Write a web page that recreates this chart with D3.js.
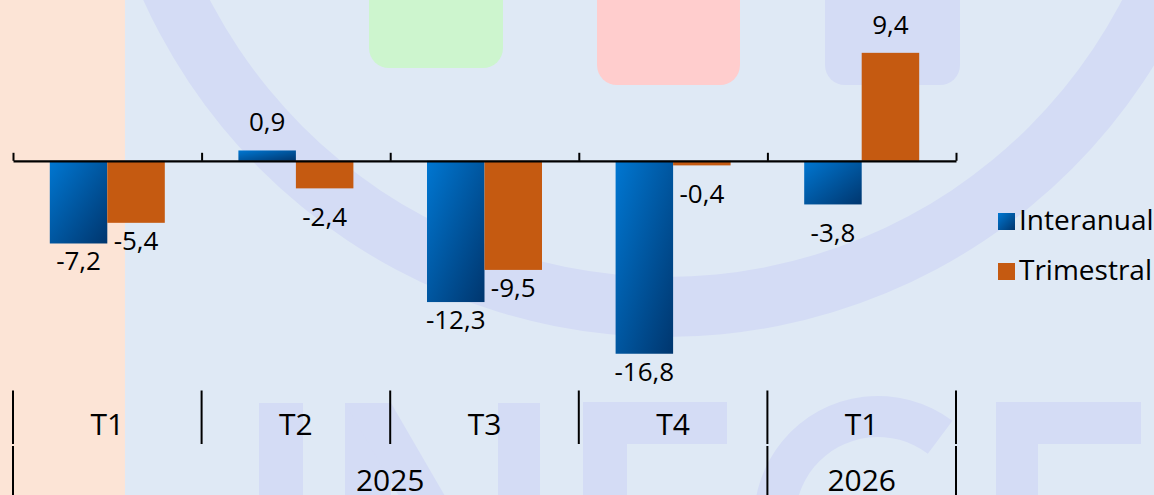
<!DOCTYPE html>
<html lang="es">
<head>
<meta charset="utf-8">
<title>Variación porcentual</title>
<script src="https://cdn.jsdelivr.net/npm/d3@7/dist/d3.min.js"></script>
<style>
  html, body { margin: 0; padding: 0; background: #DFE9F5; }
  svg { display: block; }
  text { font-family: "Open Sans", "Noto Sans", sans-serif; fill: #000; }
</style>
</head>
<body>
<svg id="chart" width="1154" height="495"></svg>
<script>
// Quarterly categories and their years
const quarters = ["T1", "T2", "T3", "T4", "T1"];
const years = ["2025", "2025", "2025", "2025", "2026"];

// Series
const seriesNames = ["Interanual", "Trimestral"];
const interanual = [-7.2, 0.9, -12.3, -16.8, -3.8];
const trimestral = [-5.4, -2.4, -9.5, -0.4, 9.4];

// Value axis extent
const yDomain = [-20, 14];

const seriesValues = { Interanual: interanual, Trimestral: trimestral };

const W = 1154, H = 495;
const svg = d3.select("#chart");

const locale = d3.formatLocale({ decimal: ",", thousands: ".", grouping: [3], currency: ["", ""], minus: "-" });
const fmt = locale.format(".1f");

// ---------- scales ----------
const plotLeft = 13, plotRight = 956, plotTop = 0, plotBottom = 390.5;
const x0 = d3.scaleBand().domain(d3.range(quarters.length)).range([plotLeft, plotRight]).padding(0);
const x1 = d3.scaleBand().domain(seriesNames).range([0, x0.bandwidth()]).paddingInner(0).paddingOuter(0.64);
const xEdge = d3.scaleLinear().domain([0, quarters.length]).range([plotLeft, plotRight]);
const y = d3.scaleLinear().domain(yDomain).range([plotBottom, plotTop]);

// ---------- defs ----------
const defs = svg.append("defs");
const grad = defs.append("linearGradient").attr("id", "blueGrad")
  .attr("x1", 0).attr("y1", 0).attr("x2", 1).attr("y2", 1);
grad.append("stop").attr("offset", "0%").attr("stop-color", "#0077D2");
grad.append("stop").attr("offset", "100%").attr("stop-color", "#00366E");

const fills = { Interanual: "url(#blueGrad)", Trimestral: "#C55A11" };

// ---------- background ----------
svg.append("rect").attr("width", W).attr("height", H).attr("fill", "#DFE9F5");

// faint institutional emblem behind the plot
const mark = svg.append("g").attr("class", "emblem");
const tint = "#D4DCF5";
mark.append("rect").attr("x", 369).attr("y", -40).attr("width", 134).attr("height", 108).attr("rx", 20).attr("fill", "#CDF5CE");
mark.append("rect").attr("x", 597).attr("y", -40).attr("width", 143).attr("height", 125).attr("rx", 20).attr("fill", "#FFCDCD");
mark.append("rect").attr("x", 825).attr("y", -40).attr("width", 135).attr("height", 125).attr("rx", 20).attr("fill", tint);
mark.append("path")
  .attr("transform", "translate(666,-237)")
  .attr("d", d3.arc()({ innerRadius: 514, outerRadius: 574, startAngle: 0, endAngle: 2 * Math.PI }))
  .attr("fill", tint);
// letters along the bottom
mark.append("rect").attr("x", 259).attr("y", 403).attr("width", 44).attr("height", 120).attr("fill", tint);
mark.append("rect").attr("x", 345).attr("y", 403).attr("width", 46).attr("height", 120).attr("fill", tint);
mark.append("rect").attr("x", 498).attr("y", 403).attr("width", 42).attr("height", 120).attr("fill", tint);
mark.append("polygon").attr("points", "345,403 391,403 565,703 519,703").attr("fill", tint);
mark.append("rect").attr("x", 583).attr("y", 402).attr("width", 144).attr("height", 42).attr("fill", tint);
mark.append("rect").attr("x", 583).attr("y", 402).attr("width", 44).attr("height", 120).attr("fill", tint);
mark.append("path")
  .attr("transform", "translate(878,520)")
  .attr("d", d3.arc()({ innerRadius: 83, outerRadius: 124, startAngle: -1.25 * Math.PI, endAngle: 0.644 }))
  .attr("fill", tint);
mark.append("rect").attr("x", 996).attr("y", 402).attr("width", 145).attr("height", 42).attr("fill", tint);
mark.append("rect").attr("x", 996).attr("y", 402).attr("width", 42).attr("height", 120).attr("fill", tint);

// highlighted first quarter
svg.append("rect").attr("x", 0).attr("y", 0).attr("width", 125).attr("height", H).attr("fill", "#FCE4D6");

// ---------- bars ----------
const rows = quarters.map((q, i) => ({ i, values: seriesNames.map(s => ({ s, v: seriesValues[s][i] })) }));

const groups = svg.append("g").selectAll("g").data(rows).join("g")
  .attr("transform", d => `translate(${x0(d.i)},0)`);

groups.selectAll("rect").data(d => d.values).join("rect")
  .attr("x", d => x1(d.s))
  .attr("y", d => Math.min(y(d.v), y(0)))
  .attr("width", x1.bandwidth())
  .attr("height", d => Math.abs(y(d.v) - y(0)))
  .attr("fill", d => fills[d.s]);

// value labels: above positive bars, below negative ones (short bars push the label further out)
groups.selectAll("text").data(d => d.values).join("text")
  .attr("x", d => x1(d.s) + x1.bandwidth() / 2)
  .attr("y", d => d.v >= 0 ? y(d.v) - 19 : y(d.v) + (Math.abs(d.v) < 5 ? 38 : 27))
  .attr("text-anchor", "middle")
  .attr("font-size", 26)
  .text(d => fmt(d.v));

// ---------- zero axis with inward ticks ----------
const axis = d3.axisBottom(xEdge)
  .tickValues(d3.range(quarters.length + 1))
  .tickSizeInner(-8)
  .tickSizeOuter(0)
  .tickFormat("");
const axisG = svg.append("g").attr("transform", `translate(0,${y(0)})`).call(axis);
axisG.select(".domain").attr("stroke", "#000").attr("stroke-width", 2.2);
axisG.selectAll(".tick line").attr("stroke", "#000").attr("stroke-width", 2);

// ---------- multi-level category axis ----------
const cat = svg.append("g").attr("class", "category-axis");
cat.selectAll("line.q").data(d3.range(quarters.length + 1)).join("line")
  .attr("class", "q")
  .attr("x1", d => xEdge(d)).attr("x2", d => xEdge(d))
  .attr("y1", plotBottom).attr("y2", 444)
  .attr("stroke", "#000").attr("stroke-width", 2);

cat.selectAll("text.q").data(rows).join("text")
  .attr("class", "q")
  .attr("x", d => x0(d.i) + x0.bandwidth() / 2)
  .attr("y", 435)
  .attr("text-anchor", "middle")
  .attr("font-size", 30)
  .text(d => quarters[d.i]);

// group consecutive quarters by year
const yearSpans = [];
years.forEach((yr, i) => {
  const last = yearSpans[yearSpans.length - 1];
  if (last && last.year === yr) last.end = i + 1;
  else yearSpans.push({ year: yr, start: i, end: i + 1 });
});
const yearEdges = [0, ...yearSpans.map(s => s.end)];

cat.selectAll("line.y").data(yearEdges).join("line")
  .attr("class", "y")
  .attr("x1", d => xEdge(d)).attr("x2", d => xEdge(d))
  .attr("y1", 446).attr("y2", H)
  .attr("stroke", "#000").attr("stroke-width", 2);

cat.selectAll("text.y").data(yearSpans).join("text")
  .attr("class", "y")
  .attr("x", d => (xEdge(d.start) + xEdge(d.end)) / 2)
  .attr("y", 491)
  .attr("text-anchor", "middle")
  .attr("font-size", 30)
  .text(d => d.year);

// ---------- legend ----------
const legend = svg.append("g").attr("transform", "translate(998,213)");
const items = legend.selectAll("g").data(seriesNames).join("g")
  .attr("transform", (d, i) => `translate(0,${i * 50})`);
items.append("rect").attr("width", 17).attr("height", 17).attr("fill", d => fills[d]);
items.append("text").attr("x", 21).attr("y", 17).attr("font-size", 28).text(d => d);
</script>
</body>
</html>
